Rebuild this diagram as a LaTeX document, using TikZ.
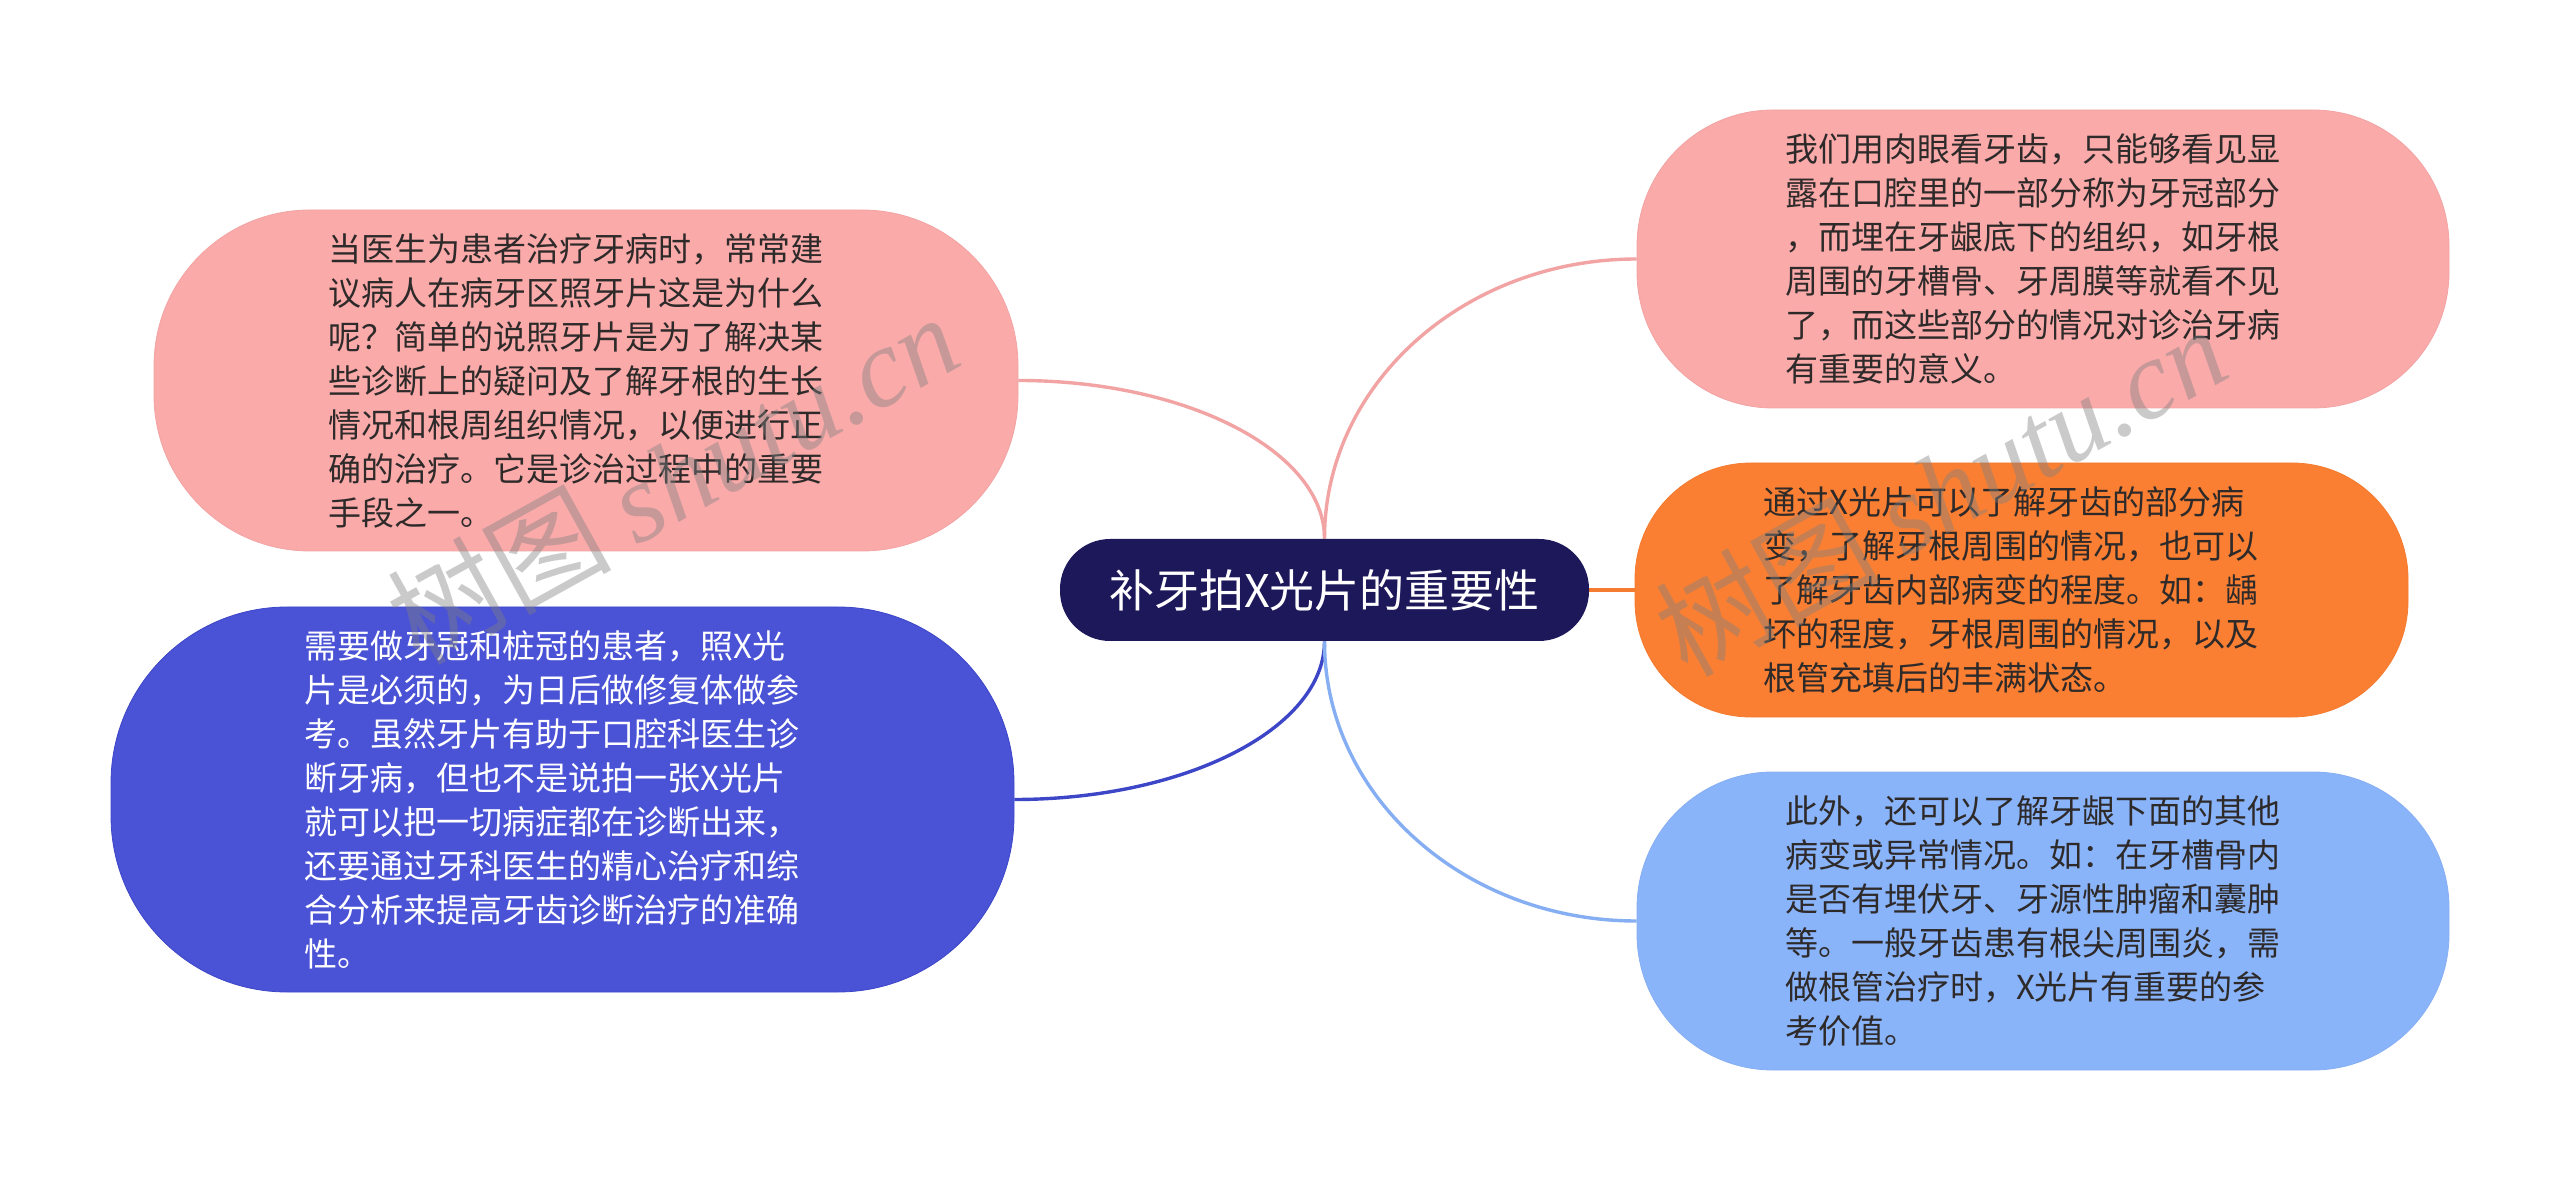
\documentclass[tikz,border=0pt]{standalone}
\usepackage{fontspec}
\setmainfont{Noto Sans CJK SC}
\newfontfamily\wmserif{Liberation Serif}
\newfontfamily\wmcjk{Noto Sans CJK SC}
\usetikzlibrary{backgrounds}
\definecolor{pinkfill}{HTML}{FBAAAA}
\definecolor{pinkline}{HTML}{F2A3A3}
\definecolor{bluefill}{HTML}{4A52D6}
\definecolor{blueline}{HTML}{3D46C6}
\definecolor{navyfill}{HTML}{1C185A}
\definecolor{orangefill}{HTML}{FA7F32}
\definecolor{orangeline}{HTML}{F47B30}
\definecolor{lbluefill}{HTML}{8AB4FA}
\definecolor{lblueline}{HTML}{86AEF2}
\definecolor{darktext}{HTML}{2E2A2A}
\tikzset{
  topicbox/.style={rectangle, inner sep=0pt, align=left, text width=258pt,
    font=\fontsize{16.5pt}{22pt}\selectfont},
  rootbox/.style={rectangle, inner sep=0pt, rounded corners=25pt, fill=navyfill,
    text=white, font=\fontsize{22.5pt}{26pt}\selectfont,
    minimum width=264.5pt, minimum height=51pt},
  conn/.style={line width=1.7pt},
  wmark/.style={text=gray, opacity=0.42, rotate=29, inner sep=0pt}
}
\begin{document}
\begin{tikzpicture}[x=0.5pt,y=-0.5pt]
\useasboundingbox (0,0) rectangle (2560,1181);

\node[rootbox] (c) at (1324.5,590) {补牙拍X光片的重要性};

\node[topicbox, fill=pinkfill, draw=pinkline, line width=0.4pt, text=darktext,
  minimum width=432pt, minimum height=170.5pt, rounded corners=78pt] (b1) at (586,380.5)
  {当医生为患者治疗牙病时，常常建\\议病人在病牙区照牙片这是为什么\\呢？简单的说照牙片是为了解决某\\些诊断上的疑问及了解牙根的生长\\情况和根周组织情况，以便进行正\\确的治疗。它是诊治过程中的重要\\手段之一。};

\node[topicbox, fill=bluefill, draw=blueline, line width=0.4pt, text=white,
  minimum width=451.5pt, minimum height=192.5pt, rounded corners=88pt] (b2) at (562.5,799.5)
  {需要做牙冠和桩冠的患者，照X光\\片是必须的，为日后做修复体做参\\考。虽然牙片有助于口腔科医生诊\\断牙病，但也不是说拍一张X光片\\就可以把一切病症都在诊断出来，\\还要通过牙科医生的精心治疗和综\\合分析来提高牙齿诊断治疗的准确\\性。};

\node[topicbox, fill=pinkfill, draw=pinkline, line width=0.4pt, text=darktext,
  minimum width=406pt, minimum height=149pt, rounded corners=68pt] (b3) at (2043,259)
  {我们用肉眼看牙齿，只能够看见显\\露在口腔里的一部分称为牙冠部分\\，而埋在牙龈底下的组织，如牙根\\周围的牙槽骨、牙周膜等就看不见\\了，而这些部分的情况对诊治牙病\\有重要的意义。};

\node[topicbox, fill=orangefill, draw=orangeline, line width=0.4pt, text=darktext,
  minimum width=386.5pt, minimum height=127pt, rounded corners=58pt] (b4) at (2021.5,590)
  {通过X光片可以了解牙齿的部分病\\变，了解牙根周围的情况，也可以\\了解牙齿内部病变的程度。如：龋\\坏的程度，牙根周围的情况，以及\\根管充填后的丰满状态。};

\node[topicbox, fill=lbluefill, draw=lblueline, line width=0.4pt, text=darktext,
  minimum width=406pt, minimum height=149pt, rounded corners=68pt] (b5) at (2043,921)
  {此外，还可以了解牙龈下面的其他\\病变或异常情况。如：在牙槽骨内\\是否有埋伏牙、牙源性肿瘤和囊肿\\等。一般牙齿患有根尖周围炎，需\\做根管治疗时，X光片有重要的参\\考价值。};

\begin{scope}[on background layer]
\draw[conn, pinkline] (c.north) .. controls +(0,-87) and +(169,0) .. (b1.east);
\draw[conn, pinkline] (c.north) .. controls +(0,-155) and +(-172,0) .. (b3.west);
\draw[conn, blueline] (c.south) .. controls +(0,87) and +(171,0) .. (b2.east);
\draw[conn, lblueline] (c.south) .. controls +(0,155) and +(-172,0) .. (b5.west);
\draw[conn, orangeline] (c.east) -- (b4.west);
\end{scope}

\node[wmark] (w1) at (672,478) {\fontsize{56pt}{60pt}\selectfont\wmcjk 树图 \wmserif\itshape shutu.cn};
\node[wmark] (w2) at (1940,490) {\fontsize{56pt}{60pt}\selectfont\wmcjk 树图 \wmserif\itshape shutu.cn};
\end{tikzpicture}
\end{document}
